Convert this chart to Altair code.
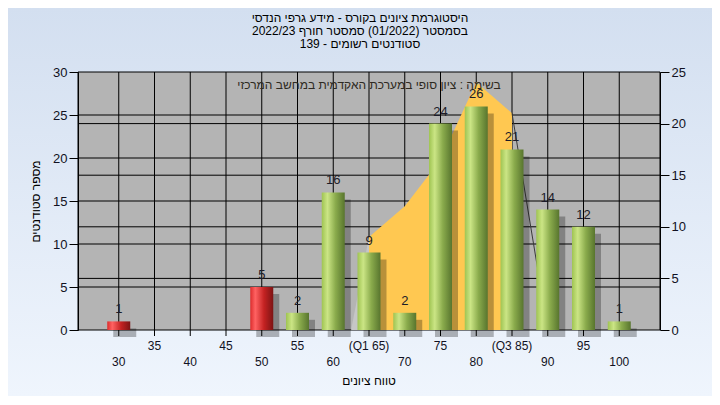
import altair as alt
import pandas as pd

# ---------------- data ----------------
grades = [30, 35, 40, 45, 50, 55, 60, 65, 70, 75, 80, 85, 90, 95, 100]
counts = [1, 0, 0, 0, 5, 2, 16, 9, 2, 24, 26, 21, 14, 12, 1]
fail_limit = 55

# secondary (right axis) area series
area_x = [65, 70, 75, 80, 85]
area_y = [9, 12, 16.5, 24, 21]
left_edge_x = [62.5, 65]
left_edge_y = [0, 9]
right_edge_x = [85, 90]
right_edge_y = [21, 0]

left_ticks = [0, 5, 10, 15, 20, 25, 30]
right_ticks = [0, 5, 10, 15, 20, 25]
left_grid = [5, 10, 15, 20, 25]
right_grid = [5, 10, 15, 20]

# x tick labels, two staggered rows
x_top_vals = [35, 45, 55, 65, 75, 85, 95]
x_top_labels = ["35", "45", "55", "(Q1 65)", "75", "(Q3 85)", "95"]
x_bottom_vals = [30, 40, 50, 60, 70, 80, 90, 100]
x_bottom_labels = ["30", "40", "50", "60", "70", "80", "90", "100"]

title_lines = [
    "היסטוגרמת ציונים בקורס - מידע גרפי הנדסי",
    "בסמסטר  (01/2022)  סמסטר חורף 2022/23",
    "סטודנטים רשומים - 139",
]
note_text = "בשימה : ציון סופי במערכת האקדמית במחשב המרכזי"
y_title = "מספר סטודנטים"
x_title = "טווח ציונים"

# ---------------- layout ----------------
W, H = 582, 258
PAD_L, PAD_T, PAD_R, PAD_B = 70, 64, 52, 66
FONT = "Liberation Sans"
LABEL_COLOR = "#111122"

df = pd.DataFrame({"grade": grades, "count": counts})
df["fail"] = df["grade"] < fail_limit
df_nz = df[df["count"] > 0]

x_scale = alt.Scale(domain=[25, 105], nice=False, zero=False)
yl_scale = alt.Scale(domain=[0, 30], nice=False, zero=True)
yr_scale = alt.Scale(domain=[0, 25], nice=False, zero=True)

yl_axis = alt.Axis(
    orient="left", values=left_ticks, labelFontSize=13, labelFont=FONT,
    labelColor=LABEL_COLOR, labelPadding=2, tickSize=9, tickColor="black",
    domainColor="black", grid=False, title=y_title, titleFont=FONT,
    titleFontSize=12, titleFontWeight="normal", titleColor="black",
    titlePadding=10, zindex=1,
)
yr_axis = alt.Axis(
    orient="right", values=right_ticks, labelFontSize=13, labelFont=FONT,
    labelColor=LABEL_COLOR, labelPadding=2, tickSize=9, tickColor="black",
    domainColor="black", grid=False, title=None, zindex=1,
)

one = pd.DataFrame({"a": [0]})

bg = alt.Chart(one).mark_rect(
    color=alt.Gradient(
        gradient="linear", x1=0, x2=0, y1=0, y2=1,
        stops=[alt.GradientStop(color="#d3dff0", offset=0),
               alt.GradientStop(color="#eff5fd", offset=1)],
    )
).encode(x=alt.value(-PAD_L), x2=alt.value(W + PAD_R),
         y=alt.value(-PAD_T), y2=alt.value(H + PAD_B))

plot_bg = alt.Chart(one).mark_rect(fill="#b4b4b4", stroke="black", strokeWidth=1).encode(
    x=alt.value(0), x2=alt.value(W), y=alt.value(0), y2=alt.value(H))

lgrid = alt.Chart(pd.DataFrame({"v": left_grid})).mark_rule(color="black", strokeWidth=1).encode(
    y=alt.Y("v:Q", scale=yl_scale, axis=None))
vgrid = alt.Chart(pd.DataFrame({"v": grades})).mark_rule(color="black", strokeWidth=1).encode(
    x=alt.X("v:Q", scale=x_scale, axis=None))
xticks = alt.Chart(pd.DataFrame({"v": grades})).mark_rule(color="black", strokeWidth=1).encode(
    x=alt.X("v:Q", scale=x_scale, axis=None), y=alt.value(H), y2=alt.value(H + 6))
rgrid = alt.Chart(pd.DataFrame({"v": right_grid})).mark_rule(color="black", strokeWidth=1).encode(
    y=alt.Y("v:Q", scale=yr_scale, axis=yr_axis))
left_tri = alt.Chart(pd.DataFrame({"x": left_edge_x, "y": left_edge_y})).mark_area(
    color="#c6c6c6").encode(
    x=alt.X("x:Q", scale=x_scale, axis=None), y=alt.Y("y:Q", scale=yr_scale, axis=None))
area = alt.Chart(pd.DataFrame({"x": area_x, "y": area_y})).mark_area(
    color="#ffc851").encode(
    x=alt.X("x:Q", scale=x_scale, axis=None), y=alt.Y("y:Q", scale=yr_scale, axis=None))
right_line = alt.Chart(pd.DataFrame({"x": right_edge_x, "y": right_edge_y})).mark_line(
    color="#3a3a3a", strokeWidth=1).encode(
    x=alt.X("x:Q", scale=x_scale, axis=None), y=alt.Y("y:Q", scale=yr_scale, axis=None))

green = alt.Gradient(
    gradient="linear", x1=0, x2=1, y1=0, y2=0,
    stops=[alt.GradientStop(color="#9fc452", offset=0),
           alt.GradientStop(color="#cbe585", offset=0.25),
           alt.GradientStop(color="#8aab4c", offset=0.6),
           alt.GradientStop(color="#58752e", offset=1)],
)
red = alt.Gradient(
    gradient="linear", x1=0, x2=1, y1=0, y2=0,
    stops=[alt.GradientStop(color="#dc2c2c", offset=0),
           alt.GradientStop(color="#ff6262", offset=0.22),
           alt.GradientStop(color="#c42222", offset=0.6),
           alt.GradientStop(color="#7c1414", offset=1)],
)

base = alt.Chart(df_nz).encode(x=alt.X("grade:Q", scale=x_scale, axis=None))
shadow = base.mark_bar(size=23, color="#000000", opacity=0.28,
                       xOffset=6, yOffset=7, y2Offset=5).encode(
    y=alt.Y("count:Q", scale=yl_scale, axis=None))
bars_green = base.transform_filter("!datum.fail").mark_bar(size=23, color=green).encode(
    y=alt.Y("count:Q", scale=yl_scale, axis=yl_axis))
bars_red = base.transform_filter("datum.fail").mark_bar(size=23, color=red).encode(
    y=alt.Y("count:Q", scale=yl_scale, axis=None))
labels = base.mark_text(fontSize=13, font=FONT, color="#1c1c28", dy=-12, baseline="middle").encode(
    y=alt.Y("count:Q", scale=yl_scale, axis=None), text="count:Q")
note = alt.Chart(one).mark_text(fontSize=12, font=FONT, color="#2e2a22", baseline="middle",
                                align="center").encode(
    x=alt.value(W / 2), y=alt.value(13), text=alt.value(note_text))

xlab_top = alt.Chart(pd.DataFrame({"v": x_top_vals, "t": x_top_labels})).mark_text(
    fontSize=12, font=FONT, color=LABEL_COLOR, baseline="middle", align="center").encode(
    x=alt.X("v:Q", scale=x_scale, axis=None), y=alt.value(H + 16), text="t:N")
xlab_bottom = alt.Chart(pd.DataFrame({"v": x_bottom_vals, "t": x_bottom_labels})).mark_text(
    fontSize=12, font=FONT, color=LABEL_COLOR, baseline="middle", align="center").encode(
    x=alt.X("v:Q", scale=x_scale, axis=None), y=alt.value(H + 32), text="t:N")
xtitle = alt.Chart(one).mark_text(
    fontSize=12, font=FONT, color="black", baseline="middle", align="center").encode(
    x=alt.value(W / 2), y=alt.value(H + 51), text=alt.value(x_title))

title = alt.Chart(one).mark_text(
    fontSize=12, font=FONT, color="black", baseline="middle", align="center",
    lineBreak="\n", lineHeight=13).encode(
    x=alt.value(W / 2 - 9), y=alt.value(-54), text=alt.value("\n".join(title_lines)))

chart = alt.layer(
    bg, plot_bg, lgrid, vgrid, xticks, rgrid, left_tri, area, right_line,
    shadow, bars_green, bars_red, labels, note, xlab_top, xlab_bottom, xtitle, title,
).resolve_scale(y="independent").properties(
    width=W, height=H,
    autosize=alt.AutoSizeParams(type="none"),
    padding={"left": PAD_L, "top": PAD_T, "right": PAD_R, "bottom": PAD_B},
    background="#e2ebf7",
).configure_view(stroke=None, fill=None)

chart.save("out.html", embed_options={"renderer": "svg", "actions": False})
